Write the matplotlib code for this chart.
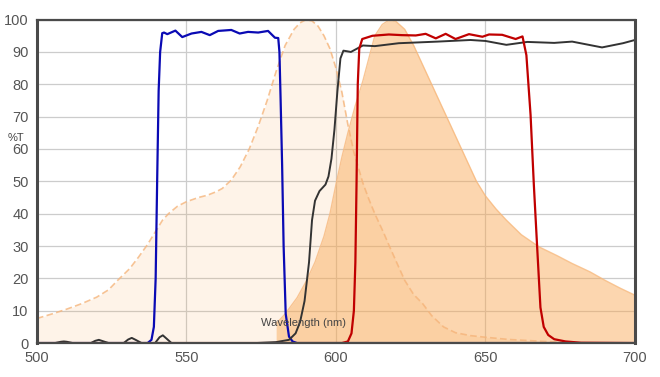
import numpy as np
import matplotlib.pyplot as plt

# excitation spectrum (light fill, dashed edge)
ex_wl = [500, 505, 510, 515, 520, 524, 527, 531, 534, 537, 540, 542, 544, 547, 550, 554, 557, 560, 562, 565, 568, 571, 574, 577, 580, 583, 586, 588, 590, 592, 594, 596, 598, 600, 602, 604, 606, 609, 611, 613, 616, 618, 621, 623, 626, 629, 632, 636, 640, 645, 650, 658, 668, 680]
ex_t = [7.6, 9, 10.5, 12.2, 14.2, 16.5, 19.4, 23, 26.6, 30.5, 35, 38, 40, 42.3, 43.7, 45, 45.7, 46.8, 47.8, 50.4, 54.5, 60, 67, 75, 84, 92, 97, 99, 100, 99.6, 98, 95, 91, 85, 77.5, 67.5, 59, 49.5, 44.5, 40, 34, 29.7, 23.5, 19.4, 15, 12.2, 8.5, 5, 3.2, 2.3, 1.8, 1.1, 0.6, 0]

# emission spectrum (darker fill)
em_wl = [580, 583, 587, 590, 593, 596, 598, 600, 602, 604, 606.5, 609, 611, 613, 615.5, 618, 620, 623, 626, 629, 631.5, 634, 638, 643, 647, 650, 653.5, 657, 662, 668, 674, 679, 685, 690, 695, 700]
em_t = [6, 9, 14, 19, 25, 33, 40, 49, 57.5, 65, 73.5, 81, 88, 95, 98.5, 100, 99.5, 97, 92, 86, 81, 76, 68, 58, 50, 45.5, 41.5, 38, 33.5, 29.7, 27, 24.6, 22, 19.4, 17, 14.8]

# excitation filter (blue)
bp_wl = [500, 537, 538.3, 539.1, 539.7, 540.2, 540.7, 541.2, 541.9, 542.5, 543.6, 546.3, 548.6, 551.7, 555, 557.8, 560.6, 565, 567.8, 570.6, 574, 577.3, 579.6, 580.7, 581.1, 581.5, 582, 582.5, 583.2, 584.3, 585.5, 587, 700]
bp_t = [0, 0, 1, 5, 20, 50, 78, 90, 95.8, 96, 95.5, 96.6, 94.6, 95.7, 96.2, 95.2, 96.5, 96.8, 95.7, 96.2, 96, 96.5, 94.4, 94.3, 90, 75, 55, 30, 9, 2, 0.5, 0, 0]

# dichroic (black)
di_wl = [500, 506, 508, 509, 510, 512, 518, 519.5, 520.7, 522, 524, 529, 530.5, 531.7, 533, 535, 539.5, 541, 542.1, 543.2, 545, 573, 580, 584.3, 586.5, 588, 589.5, 591, 592, 593, 594.5, 596.5, 597.5, 598.5, 599.5, 600.5, 601.5, 602.5, 603.8, 605, 607, 609, 613, 621, 634, 645, 650, 657, 664, 673, 679, 689, 696, 700]
di_t = [0, 0, 0.4, 0.5, 0.4, 0, 0, 0.7, 1.0, 0.6, 0, 0, 1.1, 1.6, 1.0, 0, 0, 1.8, 2.4, 1.5, 0, 0, 0.3, 1, 3, 6.5, 13, 25, 38, 44, 47, 49, 51.5, 57, 66, 78, 88, 90.4, 90.2, 90, 91, 92, 91.8, 92.7, 93.2, 93.7, 93.4, 92.2, 93.1, 92.8, 93.2, 91.4, 92.7, 93.7]

# emission filter (red)
em_f_wl = [500, 602, 604, 605.2, 606, 606.5, 606.9, 607.3, 607.8, 608.8, 612.2, 617.7, 622, 626.7, 630, 633.4, 636.7, 640, 644.5, 649, 651.2, 655.6, 660.1, 662.4, 663.7, 665.1, 666.2, 667.3, 668.4, 669.5, 671, 673, 676.8, 682, 700]
em_f_t = [0, 0, 0.5, 3, 10, 25, 50, 80, 91, 94, 95, 95.4, 95.2, 95.1, 95.6, 94.2, 95.6, 94, 95.5, 94.7, 95.4, 95.3, 94, 94.8, 89, 70.5, 48.8, 29.7, 11, 5, 2.5, 1.2, 0.5, 0.1, 0]

fig = plt.figure(figsize=(6.6, 3.77), dpi=100)
ax = fig.add_axes([0.056, 0.090, 0.906, 0.858])

ax.fill_between(ex_wl, ex_t, color='#f9a64f', alpha=0.13, lw=0)
ax.plot(ex_wl, ex_t, color='#f5b47a', lw=1.2, ls=(0, (4, 2)), alpha=0.8)
ax.fill_between(em_wl, em_t, color='#f9a64f', alpha=0.45, lw=0)
ax.plot(em_wl, em_t, color='#f7b87c', lw=1, alpha=0.8)

ax.plot(bp_wl, bp_t, color='#0a0ab4', lw=1.6)
ax.plot(di_wl, di_t, color='#333333', lw=1.4)
ax.plot(em_f_wl, em_f_t, color='#c00000', lw=1.6)

ax.set_xlim(500, 700)
ax.set_ylim(0, 100)
ax.set_xticks([500, 550, 600, 650, 700])
ax.set_yticks(np.arange(0, 101, 10))
ax.grid(True, color='#cccccc', lw=0.9)
ax.set_axisbelow(True)
ax.tick_params(length=0, labelsize=10.5, labelcolor='#555555', pad=6)
for lab in ax.get_xticklabels() + ax.get_yticklabels():
    lab.set_family('Liberation Sans')
for side in ['left', 'right', 'top', 'bottom']:
    ax.spines[side].set_color('#4a4a4a')
ax.spines['left'].set_linewidth(2.2)
ax.spines['right'].set_linewidth(2.2)
ax.spines['top'].set_linewidth(1.6)
ax.spines['bottom'].set_linewidth(1.6)

ax.text(589.3, 6.1, 'Wavelength (nm)', ha='center', va='center', fontsize=8,
        color='#444444', family='Liberation Sans')
fig.text(0.012, 1 - 138 / 377, '%T', ha='left', va='center', fontsize=8,
         color='#444444', family='Liberation Sans')

fig.savefig('out.png', dpi=100)
